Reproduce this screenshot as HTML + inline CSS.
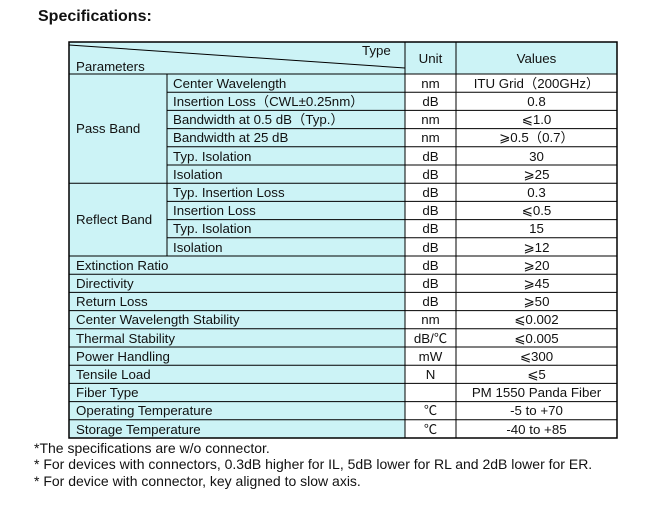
<!DOCTYPE html>
<html><head><meta charset="utf-8"><style>
body{margin:0;background:#fff;width:655px;height:501px;overflow:hidden}
svg text{font-family:"Liberation Sans","Noto Sans CJK SC",sans-serif;font-size:13.3px;fill:#111}
</style></head><body>
<svg width="655" height="501" xmlns="http://www.w3.org/2000/svg">
<text x="38" y="21" style="font-size:16px;font-weight:bold">Specifications:</text>
<rect x="69" y="42" width="548" height="396" fill="#ccf3f6"/>
<rect x="405" y="74" width="51" height="364" fill="#fff"/>
<rect x="456" y="74" width="161" height="364" fill="#fff"/>
<g stroke="#000" stroke-width="1">
<line x1="69" y1="45" x2="405" y2="68"/>
<line x1="405" y1="42" x2="405" y2="438"/>
<line x1="456" y1="42" x2="456" y2="438"/>
<line x1="167" y1="74" x2="167" y2="256"/>
<line x1="69" y1="74" x2="617" y2="74"/>
<line x1="167" y1="92.2" x2="617" y2="92.2"/>
<line x1="167" y1="110.4" x2="617" y2="110.4"/>
<line x1="167" y1="128.6" x2="617" y2="128.6"/>
<line x1="167" y1="146.8" x2="617" y2="146.8"/>
<line x1="167" y1="165" x2="617" y2="165"/>
<line x1="69" y1="183.2" x2="617" y2="183.2"/>
<line x1="167" y1="201.4" x2="617" y2="201.4"/>
<line x1="167" y1="219.6" x2="617" y2="219.6"/>
<line x1="167" y1="237.8" x2="617" y2="237.8"/>
<line x1="69" y1="256" x2="617" y2="256"/>
<line x1="69" y1="274.2" x2="617" y2="274.2"/>
<line x1="69" y1="292.4" x2="617" y2="292.4"/>
<line x1="69" y1="310.6" x2="617" y2="310.6"/>
<line x1="69" y1="328.8" x2="617" y2="328.8"/>
<line x1="69" y1="347" x2="617" y2="347"/>
<line x1="69" y1="365.2" x2="617" y2="365.2"/>
<line x1="69" y1="383.4" x2="617" y2="383.4"/>
<line x1="69" y1="401.6" x2="617" y2="401.6"/>
<line x1="69" y1="419.8" x2="617" y2="419.8"/>
</g>
<rect x="69" y="42" width="548" height="396" fill="none" stroke="#000" stroke-width="1.5"/>
<text x="362" y="55">Type</text>
<text x="76" y="71">Parameters</text>
<text x="430.5" y="63" text-anchor="middle">Unit</text>
<text x="536.5" y="63" text-anchor="middle">Values</text>
<text x="76" y="133">Pass Band</text>
<text x="76" y="224">Reflect Band</text>
<g>
<text x="173" y="88">Center Wavelength</text>
<text x="173" y="106">Insertion Loss（CWL±0.25nm）</text>
<text x="173" y="124">Bandwidth at 0.5 dB（Typ.）</text>
<text x="173" y="142">Bandwidth at 25 dB</text>
<text x="173" y="161">Typ. Isolation</text>
<text x="173" y="179">Isolation</text>
<text x="173" y="197">Typ. Insertion Loss</text>
<text x="173" y="215">Insertion Loss</text>
<text x="173" y="233">Typ. Isolation</text>
<text x="173" y="252">Isolation</text>
<text x="76" y="270">Extinction Ratio</text>
<text x="76" y="288">Directivity</text>
<text x="76" y="306">Return Loss</text>
<text x="76" y="324">Center Wavelength Stability</text>
<text x="76" y="343">Thermal Stability</text>
<text x="76" y="361">Power Handling</text>
<text x="76" y="379">Tensile Load</text>
<text x="76" y="397">Fiber Type</text>
<text x="76" y="415">Operating Temperature</text>
<text x="76" y="434">Storage Temperature</text>
</g>
<g text-anchor="middle">
<text x="430.5" y="88">nm</text><text x="536.5" y="88">ITU Grid（200GHz）</text>
<text x="430.5" y="106">dB</text><text x="536.5" y="106">0.8</text>
<text x="430.5" y="124">nm</text><text x="536.5" y="124">⩽1.0</text>
<text x="430.5" y="142">nm</text><text x="536.5" y="142">⩾0.5（0.7）</text>
<text x="430.5" y="161">dB</text><text x="536.5" y="161">30</text>
<text x="430.5" y="179">dB</text><text x="536.5" y="179">⩾25</text>
<text x="430.5" y="197">dB</text><text x="536.5" y="197">0.3</text>
<text x="430.5" y="215">dB</text><text x="536.5" y="215">⩽0.5</text>
<text x="430.5" y="233">dB</text><text x="536.5" y="233">15</text>
<text x="430.5" y="252">dB</text><text x="536.5" y="252">⩾12</text>
<text x="430.5" y="270">dB</text><text x="536.5" y="270">⩾20</text>
<text x="430.5" y="288">dB</text><text x="536.5" y="288">⩾45</text>
<text x="430.5" y="306">dB</text><text x="536.5" y="306">⩾50</text>
<text x="430.5" y="324">nm</text><text x="536.5" y="324">⩽0.002</text>
<text x="430.5" y="343">dB/℃</text><text x="536.5" y="343">⩽0.005</text>
<text x="430.5" y="361">mW</text><text x="536.5" y="361">⩽300</text>
<text x="430.5" y="379">N</text><text x="536.5" y="379">⩽5</text>
<text x="536.5" y="397">PM 1550 Panda Fiber</text>
<text x="430.5" y="415">℃</text><text x="536.5" y="415">-5 to +70</text>
<text x="430.5" y="434">℃</text><text x="536.5" y="434">-40 to +85</text>
</g>
<text x="34" y="453" style="font-size:14px">*The specifications are w/o connector.</text>
<text x="34" y="469" style="font-size:14px">* For devices with connectors, 0.3dB higher for IL, 5dB lower for RL and 2dB lower for ER.</text>
<text x="34" y="486" style="font-size:14px">* For device with connector, key aligned to slow axis.</text>
</svg>
</body></html>
